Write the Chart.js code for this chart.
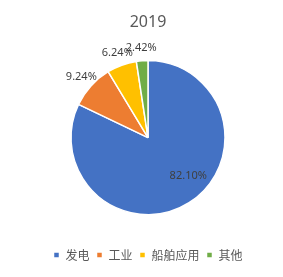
<!DOCTYPE html>
<html>
<head>
<meta charset="utf-8">
<script src="https://cdn.jsdelivr.net/npm/chart.js@4.4.1/dist/chart.umd.min.js"></script>
<style>
  html, body { margin: 0; padding: 0; background: #fff; }
  #wrap { width: 283px; height: 277px; }
</style>
</head>
<body>
<div id="wrap"><canvas id="pie-chart"></canvas></div>
<script>
const categories = ['发电', '工业', '船舶应用', '其他']
const shares = [82.10, 9.24, 6.24, 2.42]
const sliceColors = ['#4472C4', '#ED7D31', '#FFC000', '#70AD47']
const titleText = '2019'

// draws the percent labels: big slice inside, small ones just outside
const pctLabels = {
  id: 'pctLabels',
  afterDatasetsDraw(chart) {
    const ctx = chart.ctx
    const meta = chart.getDatasetMeta(0)
    ctx.save()
    ctx.font = '11px "Noto Sans", sans-serif'
    ctx.fillStyle = '#404040'
    ctx.textAlign = 'center'
    ctx.textBaseline = 'middle'
    meta.data.forEach((arc, i) => {
      const p = arc.getProps(['x', 'y', 'startAngle', 'endAngle', 'outerRadius'], true)
      let mid = (p.startAngle + p.endAngle) / 2
      const inside = shares[i] > 20
      // excel's best-fit pulls the big label a bit toward the open side
      if (inside) mid -= 0.25
      const d = inside ? p.outerRadius * 0.72 : p.outerRadius + 13
      ctx.fillText(shares[i].toFixed(2) + '%', p.x + Math.cos(mid) * d, p.y + Math.sin(mid) * d)
    })
    ctx.restore()
  }
}

const pieChart = new Chart(document.getElementById('pie-chart'), {
  type: 'pie',
  data: {
    labels: categories,
    datasets: [
      {
        data: shares,
        backgroundColor: sliceColors,
        borderColor: '#ffffff',
        borderWidth: 1.5,
        radius: 77,
      },
    ],
  },
  options: {
    responsive: true,
    maintainAspectRatio: false,
    animation: false,
    layout: {
      padding: { left: 13, right: 0, top: 0, bottom: 6 },
    },
    plugins: {
      title: {
        display: true,
        text: titleText,
        color: '#595959',
        font: { family: '"Noto Sans", sans-serif', size: 16, weight: 'normal' },
        padding: { top: 13, bottom: 1 },
      },
      legend: {
        position: 'bottom',
        labels: {
          boxWidth: 6,
          boxHeight: 6,
          padding: 7,
          color: '#595959',
          font: { family: '"Noto Sans CJK SC", sans-serif', size: 12 },
        },
      },
      tooltip: { enabled: false },
    },
  },
  plugins: [pctLabels],
})
</script>
</body>
</html>
